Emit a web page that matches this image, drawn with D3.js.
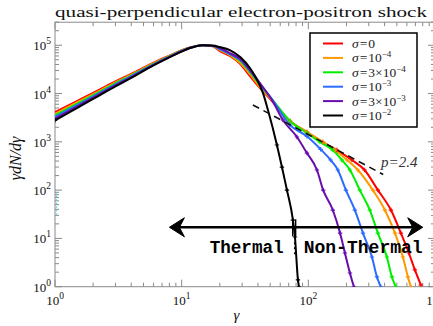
<!DOCTYPE html>
<html>
<head>
<meta charset="utf-8">
<script src="https://cdn.jsdelivr.net/npm/d3@7/dist/d3.min.js"></script>
<style>
  html, body { margin: 0; padding: 0; background: #fff; }
  svg { display: block; }
</style>
</head>
<body>
<script>
// Particle spectra downstream of a quasi-perpendicular electron-positron shock,
// one curve per magnetization sigma.

const sigmaLabels = [["0", null], ["10", "\u22124"], ["3\u00d710", "\u22124"], ["10", "\u22123"], ["3\u00d710", "\u22123"], ["10", "\u22122"]];
const sigmaColors = ["#ff0000", "#ff9900", "#00ee00", "#2b6cff", "#6a0dad", "#000000"];

// Thermal (rising) side, shared gamma grid
const gammaRise = [1, 1.5, 2, 3, 4, 6, 8, 10, 12, 14.5];
const riseS0   = [4120, 7080, 10350, 17800, 25500, 43500, 61000, 79000, 92000, 100000];
const riseS1e4 = [3800, 6610, 9750, 17000, 24500, 42400, 60000, 78000, 91500, 100000];
const riseS3e4 = [3510, 6170, 9180, 16200, 23600, 41200, 59000, 77000, 91000, 100000];
const riseS1e3 = [3270, 5810, 8730, 15500, 22800, 40300, 58000, 76000, 90500, 100000];
const riseS3e3 = [3020, 5430, 8220, 14800, 21900, 39300, 57000, 75000, 90000, 100000];
const riseS1e2 = [2790, 5070, 7740, 14100, 21100, 38300, 56000, 74000, 89500, 100000];

// Falling side and non-thermal tail
const tailGammaS0   = [17.5, 20, 24, 29, 34.6, 41.5, 51.6, 71.6, 97.5, 130, 168, 221, 278, 354, 449, 538, 622, 694, 774];
const tailS0        = [95500, 75900, 59800, 40800, 23000, 13000, 7000, 2700, 1600, 990, 676, 420, 261, 100, 38.7, 12.9, 4.99, 2.22, 1.08];
const tailGammaS1e4 = [17.5, 20, 24, 29, 34.6, 41.5, 51.6, 71.6, 97.5, 130, 162, 202, 246, 323, 402, 483, 558, 611, 645];
const tailS1e4      = [96000, 79600, 62700, 42800, 25300, 13600, 7330, 2700, 1600, 990, 676, 420, 261, 100, 38.7, 12.9, 4.12, 1.59, 0.99];
const tailGammaS3e4 = [17.5, 20, 24, 29, 34.6, 41.5, 51.6, 71.6, 97.5, 123.5, 156, 184, 213, 255, 306, 354, 417, 457, 491];
const tailS3e4      = [96500, 83400, 65700, 47100, 27900, 15000, 7690, 2700, 1520, 990, 676, 420, 261, 100, 38.7, 12.9, 4.12, 1.59, 0.99];
const tailGammaS1e3 = [17.5, 20, 24, 29, 34.6, 41.5, 51.6, 71.6, 97.5, 125, 150, 171, 198, 233, 270, 318, 348, 374];
const tailS1e3      = [97000, 83400, 65700, 49400, 29200, 15700, 7690, 2230, 1300, 700, 420, 261, 100, 38.7, 12.9, 4.12, 1.59, 0.99];
const tailGammaS3e3 = [17.5, 20, 24, 29, 34.6, 41.5, 51.6, 63, 81.3, 97.5, 117, 131, 156, 178, 194.5, 213, 229];
const tailS3e3      = [97500, 87500, 68900, 51800, 30700, 16500, 7330, 2830, 1260, 586, 261, 100, 38.7, 12.9, 4.99, 1.92, 0.99];
const tailGammaS1e2 = [17.5, 20, 24, 29, 34.6, 37.9, 43.8, 48, 56.5, 61.9, 67.8, 75.6, 78.4, 82.8, 84.3];
const tailS1e2      = [98500, 91800, 79600, 57000, 33700, 23000, 10300, 4550, 859, 300, 100, 24, 10.7, 1.38, 0.99];

// Power-law guide
const plIndex = 2.4;
const plGamma = [36.5, 390];
const plNorm = 5800;

// Annotation: thermal / non-thermal split
const arrowGamma = [8, 800];
const arrowLevel = 17;
const splitGamma = 78;
const splitTextLevel = 5;

// Axis ticks
const xMajor = [[1, "0"], [10, "1"], [100, "2"], [1000, "3"]];
const yMajor = [[1, "0"], [10, "1"], [100, "2"], [1000, "3"], [1e4, "4"], [1e5, "5"]];

const W = 433, H = 326;
const x = d3.scaleLog().domain([1, 1000]).range([55, 435]);
const y = d3.scaleLog().domain([1, 3e5]).range([286.7, 22.2]);
const [x0, x1] = x.range();
const [y0, y1] = y.range();

const svg = d3.select("body").append("svg").attr("width", W).attr("height", H);
const serif = "'Liberation Serif', 'DejaVu Serif', serif";

svg.append("defs").append("clipPath").attr("id", "plotclip")
  .append("rect").attr("x", x0).attr("y", y1).attr("width", x1 - x0).attr("height", y0 - y1);

// Frame and ticks
const axisColor = "#8a8a8a";
const gAx = svg.append("g").attr("stroke", axisColor).attr("stroke-width", 1);
gAx.append("rect").attr("x", x0).attr("y", y1).attr("width", x1 - x0).attr("height", y0 - y1).attr("fill", "none");

const xTicks = [], yTicks = [];
for (let d = 0; d < 3; d++) for (let m = 1; m <= 9; m++) xTicks.push([m * Math.pow(10, d), m === 1]);
xTicks.push([1000, true]);
for (let d = 0; d < 6; d++) for (let m = 1; m <= 9; m++) {
  const v = m * Math.pow(10, d);
  if (v <= 3e5) yTicks.push([v, m === 1]);
}
xTicks.forEach(([v, maj]) => {
  const px = x(v), len = maj ? 7 : 4;
  gAx.append("line").attr("x1", px).attr("x2", px).attr("y1", y0).attr("y2", y0 - len);
  gAx.append("line").attr("x1", px).attr("x2", px).attr("y1", y1).attr("y2", y1 + len);
});
yTicks.forEach(([v, maj]) => {
  const py = y(v), len = maj ? 7 : 4;
  gAx.append("line").attr("y1", py).attr("y2", py).attr("x1", x0).attr("x2", x0 + len);
  gAx.append("line").attr("y1", py).attr("y2", py).attr("x1", x1).attr("x2", x1 - len);
});

// Tick labels
xMajor.forEach(([v, e]) => {
  const t = svg.append("text").attr("x", x(v)).attr("y", y0 + 18.5)
    .attr("text-anchor", "middle").attr("font-family", serif).attr("font-size", 13).attr("fill", "#111");
  t.append("tspan").text("10");
  t.append("tspan").attr("dy", -6).attr("font-size", 9.5).text(e);
});
yMajor.forEach(([v, e]) => {
  const t = svg.append("text").attr("x", x0 - 4).attr("y", y(v) + 5)
    .attr("text-anchor", "end").attr("font-family", serif).attr("font-size", 13).attr("fill", "#111");
  t.append("tspan").text("10");
  t.append("tspan").attr("dy", -6).attr("font-size", 9.5).text(e);
});

// Axis titles
svg.append("text").attr("x", (x0 + 308) / 2 + 55).attr("y", 320)
  .attr("text-anchor", "middle").attr("font-family", serif).attr("font-style", "italic")
  .attr("font-size", 15).attr("fill", "#111").text("\u03b3");
svg.append("text").attr("transform", "translate(21," + ((y0 + y1) / 2 + 4) + ") rotate(-90)")
  .attr("text-anchor", "middle").attr("font-family", serif).attr("font-style", "italic")
  .attr("font-size", 16).attr("fill", "#111").text("\u03b3dN/d\u03b3");

// Title
svg.append("text").attr("x", x0).attr("y", 17).attr("font-family", serif)
  .attr("font-size", 15).attr("fill", "#111")
  .attr("textLength", 372).attr("lengthAdjust", "spacingAndGlyphs")
  .text("quasi-perpendicular electron-positron shock");

// Curves
const rises = [riseS0, riseS1e4, riseS3e4, riseS1e3, riseS3e3, riseS1e2];
const tailG = [tailGammaS0, tailGammaS1e4, tailGammaS3e4, tailGammaS1e3, tailGammaS3e3, tailGammaS1e2];
const tailV = [tailS0, tailS1e4, tailS3e4, tailS1e3, tailS3e3, tailS1e2];
const series = rises.map((r, i) =>
  gammaRise.map((g, j) => [g, r[j]]).concat(tailG[i].map((g, j) => [g, tailV[i][j]])));

const line = d3.line().x(d => x(d[0])).y(d => y(d[1])).curve(d3.curveMonotoneX);
const plot = svg.append("g").attr("clip-path", "url(#plotclip)");

// stray cyan specks near the left axis
plot.append("line").attr("x1", x(1.03)).attr("x2", x(1.03)).attr("y1", y(90)).attr("y2", y(30))
  .attr("stroke", "#55dddd").attr("stroke-width", 1.2).attr("stroke-dasharray", "1.5,2");

series.forEach((pts, i) => {
  plot.append("path").datum(pts).attr("d", line).attr("fill", "none")
    .attr("stroke", sigmaColors[i]).attr("stroke-width", 2).attr("stroke-linejoin", "round");
});
series.forEach((pts, i) => {
  pts.filter(d => d[1] < 3000).forEach(d => {
    const px = x(d[0]), py = y(d[1]);
    plot.append("path").attr("d", `M${px - 2.2},${py}H${px + 2.2}M${px},${py - 2.2}V${py + 2.2}`)
      .attr("stroke", sigmaColors[i]).attr("stroke-width", 1.2);
  });
});

// p = 2.4 guide
const plPts = plGamma.map(g => [g, plNorm * Math.pow(g / plGamma[0], 1 - plIndex)]);
plot.append("line")
  .attr("x1", x(plPts[0][0])).attr("y1", y(plPts[0][1]))
  .attr("x2", x(plPts[1][0])).attr("y2", y(plPts[1][1]))
  .attr("stroke", "#111").attr("stroke-width", 1.6).attr("stroke-dasharray", "7,5");
svg.append("text").attr("x", x(375)).attr("y", y(300))
  .attr("font-family", serif).attr("font-style", "italic").attr("font-size", 15).attr("fill", "#333")
  .text("p=" + plIndex);

// Thermal / non-thermal arrow
const ay = y(arrowLevel), ax0 = x(arrowGamma[0]), ax1 = x(arrowGamma[1]);
const ann = svg.append("g");
ann.append("line").attr("x1", ax0 + 8).attr("x2", ax1 - 8).attr("y1", ay).attr("y2", ay)
  .attr("stroke", "#000").attr("stroke-width", 2.6);
ann.append("path").attr("d", `M${ax0},${ay}L${ax0 + 15},${ay - 9.5}L${ax0 + 10},${ay}L${ax0 + 15},${ay + 9.5}Z`)
  .attr("fill", "#000").attr("stroke", "#000").attr("stroke-width", 1);
ann.append("path").attr("d", `M${ax1},${ay}L${ax1 - 15},${ay - 9.5}L${ax1 - 10},${ay}L${ax1 - 15},${ay + 9.5}Z`)
  .attr("fill", "#000").attr("stroke", "#000").attr("stroke-width", 1);
const sx = x(splitGamma);
ann.append("line").attr("x1", sx - 2).attr("x2", sx - 2).attr("y1", ay - 9).attr("y2", ay + 9)
  .attr("stroke", "#000").attr("stroke-width", 1.4);
ann.append("line").attr("x1", sx + 1).attr("x2", sx + 1).attr("y1", ay - 8).attr("y2", ay + 9)
  .attr("stroke", "#000").attr("stroke-width", 1.4);
ann.append("line").attr("x1", sx).attr("x2", sx).attr("y1", ay + 15).attr("y2", ay + 28)
  .attr("stroke", "#000").attr("stroke-width", 1.4).attr("stroke-dasharray", "2,3");
const ty = y(splitTextLevel);
const mono = "'Liberation Mono', 'DejaVu Sans Mono', monospace";
ann.append("text").attr("x", sx - 11).attr("y", ty).attr("text-anchor", "end")
  .attr("font-family", mono).attr("font-weight", "bold").attr("font-size", 18).attr("fill", "#000")
  .attr("textLength", 74).attr("lengthAdjust", "spacingAndGlyphs").text("Thermal");
ann.append("text").attr("x", sx + 9).attr("y", ty)
  .attr("font-family", mono).attr("font-weight", "bold").attr("font-size", 18).attr("fill", "#000")
  .attr("textLength", 119).attr("lengthAdjust", "spacingAndGlyphs").text("Non-Thermal");

// Legend
const leg = svg.append("g");
leg.append("rect").attr("x", 310).attr("y", 33).attr("width", 107).attr("height", 94)
  .attr("fill", "#fff").attr("stroke", "#000").attr("stroke-width", 1.5);
sigmaLabels.forEach(([base, ex], i) => {
  const ry = 43.5 + i * 14.4;
  leg.append("line").attr("x1", 323).attr("x2", 343).attr("y1", ry).attr("y2", ry)
    .attr("stroke", sigmaColors[i]).attr("stroke-width", 2);
  const t = leg.append("text").attr("x", 352).attr("y", ry + 4.5)
    .attr("font-family", serif).attr("font-size", 13.5).attr("fill", "#222");
  t.append("tspan").attr("font-style", "italic").text("\u03c3");
  t.append("tspan").attr("dx", 1).text("=");
  t.append("tspan").attr("dx", 1).text(base);
  if (ex) t.append("tspan").attr("dy", -5).attr("font-size", 9).text(ex);
});
</script>
</body>
</html>
